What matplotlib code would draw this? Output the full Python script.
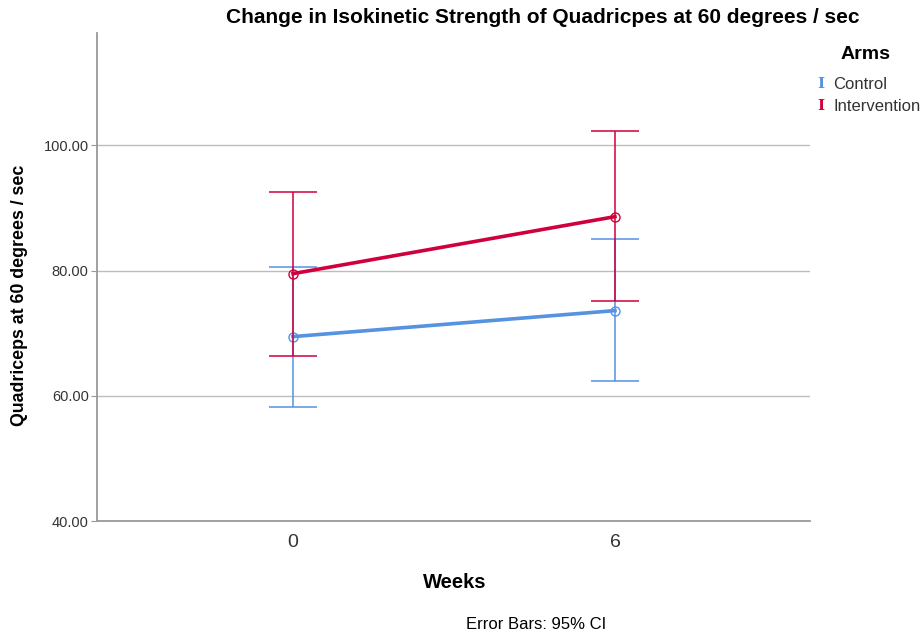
import matplotlib.pyplot as plt

plt.rcParams['font.family'] = ['Liberation Sans', 'DejaVu Sans']

weeks = ['0', '6']

control_mean = [69.45, 73.6]
control_low = [58.2, 62.3]
control_high = [80.6, 85.0]

interv_mean = [79.5, 88.6]
interv_low = [66.3, 75.1]
interv_high = [92.5, 102.3]

azul = '#5592e0'
vermelho = '#d0003c'

fig = plt.figure(figsize=(9.21, 6.37), dpi=100)
ax = fig.add_axes([0.1053, 0.182, 0.7742, 0.766])

x = list(range(len(weeks)))


def desenha(media, baixo, alto, cor, z):
    erro = [[m - b for m, b in zip(media, baixo)],
            [a - m for m, a in zip(media, alto)]]
    ax.errorbar(x, media, yerr=erro, fmt='none', ecolor=cor, elinewidth=1.1,
                capsize=17, capthick=1.1, zorder=z)
    ax.plot(x, media, color=cor, linewidth=2.6, zorder=z + 1)
    ax.plot(x, media, linestyle='none', marker='o', markersize=6.5,
            markerfacecolor='none', markeredgecolor=cor, markeredgewidth=1.0,
            zorder=z + 2)


desenha(control_mean, control_low, control_high, azul, 3)
desenha(interv_mean, interv_low, interv_high, vermelho, 6)

ax.set_xlim(-0.609, 1.606)
ax.set_ylim(40, 117.9)
ax.set_xticks(x)
ax.set_xticklabels(weeks, fontsize=14, color='#333333')
ax.tick_params(axis='x', length=0, pad=9)
ax.set_yticks([40, 60, 80, 100])
ax.set_yticklabels(['40.00', '60.00', '80.00', '100.00'], fontsize=10.5, color='#333333')
ax.tick_params(axis='y', length=4, color='#999999', pad=2)

for v in [60, 80, 100]:
    ax.axhline(v, color='#bdbdbd', linewidth=1.0, zorder=1)

for lado in ['top', 'right']:
    ax.spines[lado].set_visible(False)
for lado in ['left', 'bottom']:
    ax.spines[lado].set_color('#999999')
    ax.spines[lado].set_linewidth(1.3)

fig.text(0.589, 0.972, 'Change in Isokinetic Strength of Quadricpes at 60 degrees / sec',
         ha='center', va='center', fontsize=15, fontweight='bold')
fig.text(0.021, 0.537, 'Quadriceps at 60 degrees / sec', rotation=90,
         ha='center', va='center', fontsize=12.8, fontweight='bold')
fig.text(0.494, 0.086, 'Weeks', ha='center', va='center', fontsize=14.5, fontweight='bold')
fig.text(0.582, 0.02, 'Error Bars: 95% CI', ha='center', va='center', fontsize=12)

# legenda
fig.text(0.94, 0.915, 'Arms', ha='center', va='center', fontsize=14, fontweight='bold')
for i, (nome, cor) in enumerate([('Control', azul), ('Intervention', vermelho)]):
    y = 0.868 - i * 0.035
    fig.text(0.8915, y, 'I', color=cor, family='DejaVu Serif', fontweight='bold',
             ha='center', va='center', fontsize=11)
    fig.text(0.905, y, nome, ha='left', va='center', fontsize=12, color='#333333')

fig.savefig('out.png', dpi=100)
